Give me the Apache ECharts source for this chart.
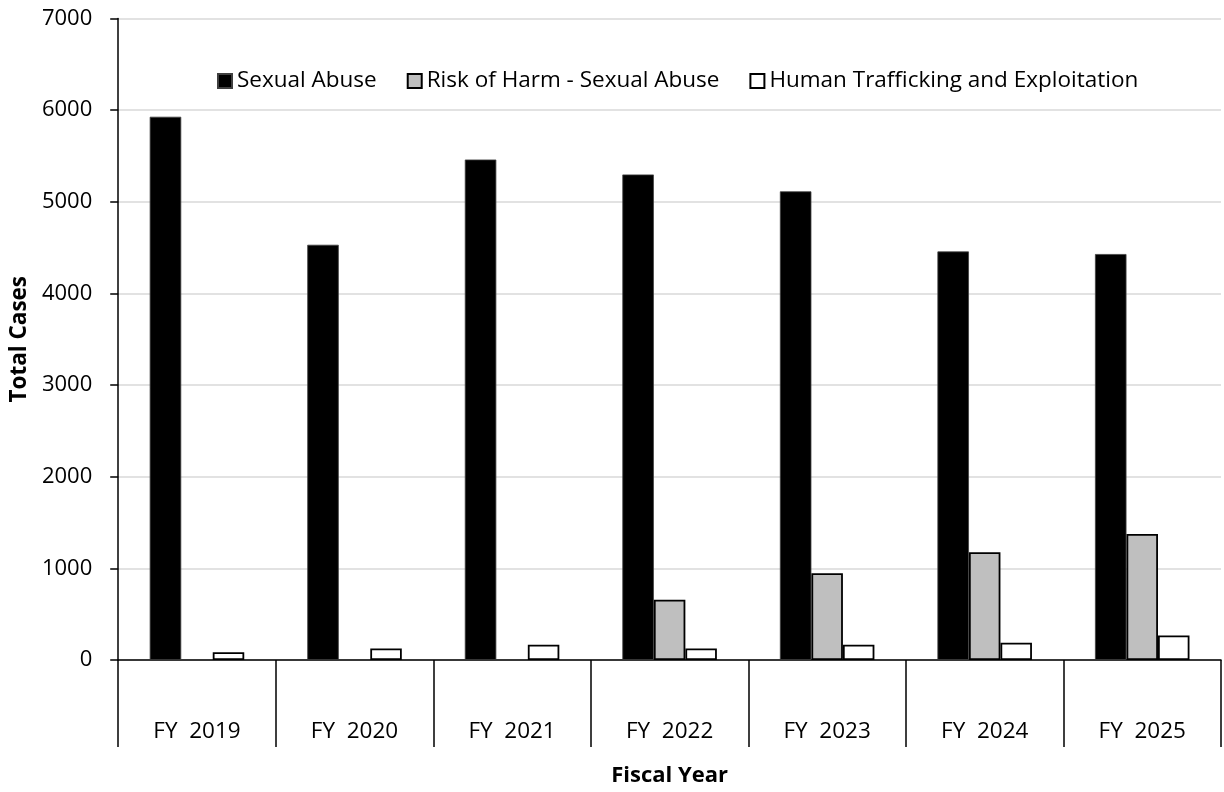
<!DOCTYPE html>
<html>
<head>
<meta charset="utf-8">
<script src="https://cdn.jsdelivr.net/npm/echarts@6/dist/echarts.min.js"></script>
<style>
  html, body { margin: 0; padding: 0; background: #fff; }
  #chart { width: 1224px; height: 792px; }
</style>
</head>
<body>
<div id="chart"></div>
<script>
// Fiscal years shown on the category axis
const fiscalYears = ['FY  2019', 'FY  2020', 'FY  2021', 'FY  2022', 'FY  2023', 'FY  2024', 'FY  2025'];

// Total cases per fiscal year
const sexualAbuse = [5928, 4531, 5461, 5298, 5114, 4458, 4430];
const riskOfHarm = [null, null, null, 657, 946, 1176, 1375];
const humanTrafficking = [85, 126, 166, 126, 166, 188, 267];

const seriesNames = ['Sexual Abuse', 'Risk of Harm - Sexual Abuse', 'Human Trafficking and Exploitation'];

const FONT = '"Open Sans", "Noto Sans", sans-serif';
const TEXT = '#000000';

const chart = echarts.init(document.getElementById('chart'), null, { renderer: 'canvas' });

chart.setOption({
  backgroundColor: '#ffffff',
  animation: false,
  textStyle: { fontFamily: FONT, color: TEXT },
  legend: {
    left: 212,
    top: 64.5,
    icon: 'rect',
    itemWidth: 14,
    itemHeight: 14,
    itemGap: 30,
    textStyle: { fontFamily: FONT, fontSize: 22.5, color: TEXT },
    data: seriesNames
  },
  grid: { left: 118, right: 3, top: 18.5, bottom: 128.7 },
  xAxis: {
    type: 'category',
    data: fiscalYears,
    boundaryGap: true,
    name: 'Fiscal Year',
    nameLocation: 'middle',
    nameGap: 105,
    nameTextStyle: { fontFamily: FONT, fontSize: 22, fontWeight: 'bold', color: TEXT },
    axisLine: { show: true, lineStyle: { color: '#000', width: 1.5 } },
    axisTick: { show: true, interval: 0, length: 87, lineStyle: { color: '#000', width: 1.5 } },
    axisLabel: { interval: 0, margin: 60, fontFamily: FONT, fontSize: 22.5, color: TEXT },
    splitLine: { show: false }
  },
  yAxis: {
    type: 'value',
    min: 0,
    max: 7000,
    interval: 1000,
    name: 'Total Cases',
    nameLocation: 'middle',
    nameGap: 86,
    nameTextStyle: { fontFamily: FONT, fontSize: 22.5, fontWeight: 'bold', color: TEXT },
    axisLine: { show: true, lineStyle: { color: '#000', width: 1.5 } },
    axisTick: { show: true, length: 8, lineStyle: { color: '#000', width: 1.5 } },
    axisLabel: {
      margin: 26,
      fontFamily: FONT,
      fontSize: 22,
      color: TEXT,
      formatter: (v) => String(v)
    },
    splitLine: { show: true, lineStyle: { color: '#d9d9d9', width: 1.5 } }
  },
  series: [
    {
      name: seriesNames[0],
      type: 'bar',
      data: sexualAbuse,
      barGap: '0%',
      barCategoryGap: '40%',
      itemStyle: { color: '#000000', borderColor: '#404040', borderWidth: 0.8 }
    },
    {
      name: seriesNames[1],
      type: 'bar',
      data: riskOfHarm,
      itemStyle: { color: '#bfbfbf', borderColor: '#000000', borderWidth: 1.8 }
    },
    {
      name: seriesNames[2],
      type: 'bar',
      data: humanTrafficking,
      itemStyle: { color: '#ffffff', borderColor: '#000000', borderWidth: 1.8 }
    }
  ]
});
</script>
</body>
</html>
